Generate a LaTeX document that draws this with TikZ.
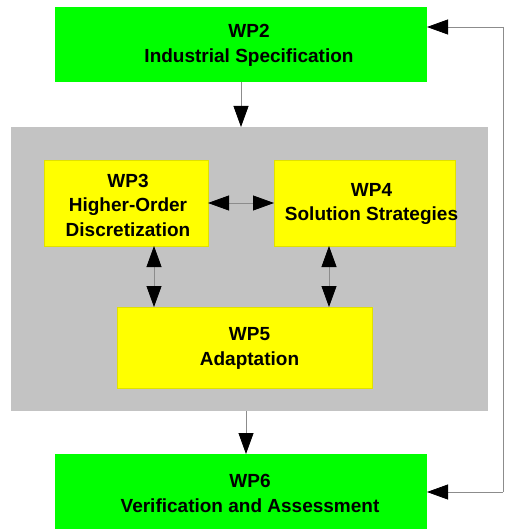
\documentclass[tikz,border=0pt]{standalone}
\usepackage{fontspec}
\setmainfont{Liberation Sans}
\usetikzlibrary{arrows.meta}
\definecolor{boxgreen}{HTML}{00FF00}
\definecolor{boxyellow}{HTML}{FFFF00}
\definecolor{yelborder}{HTML}{E0E000}
\definecolor{panelgray}{HTML}{C3C3C3}
\definecolor{linegray}{HTML}{8C8C8C}
\tikzset{
  wpbox/.style={draw=none, inner sep=0pt, outer sep=0pt, anchor=north west},
  greenbox/.style={wpbox, fill=boxgreen},
  yellowbox/.style={wpbox, fill=boxyellow, draw=yelborder, line width=0.8pt},
  lbl/.style={align=center, font=\fontsize{19}{24.5}\selectfont\bfseries, inner sep=0pt},
  tip/.style={Triangle[length=21pt,width=15pt,color=black]},
  conn/.style={draw=linegray, line width=0.8pt, -{Triangle[length=21pt,width=15pt,color=black]}},
  dconn/.style={draw=linegray, line width=0.8pt, {Triangle[length=21pt,width=15pt,color=black]}-{Triangle[length=21pt,width=15pt,color=black]}},
}
\begin{document}
\begin{tikzpicture}[x=1pt,y=-1pt]
\useasboundingbox (0,0) rectangle (504,529);
\fill[white] (0,0) rectangle (504,529);
% panel
\node[wpbox, fill=panelgray, minimum width=477pt, minimum height=284pt] (panel) at (11,127) {};
% boxes
\node[greenbox, minimum width=372pt, minimum height=75pt] (wp2) at (55,7) {};
\node[yellowbox, minimum width=164pt, minimum height=86pt] (wp3) at (44,160) {};
\node[yellowbox, minimum width=181pt, minimum height=86pt] (wp4) at (274,160) {};
\node[yellowbox, minimum width=255pt, minimum height=81pt] (wp5) at (117,307) {};
\node[greenbox, minimum width=372pt, minimum height=75pt] (wp6) at (55,454) {};
% labels
\node[lbl] (t2) at ([xshift=8pt,yshift=-1pt]wp2.center) {WP2\\Industrial Specification};
\node[lbl] (t3) at ([xshift=2pt,yshift=-2pt]wp3.center) {WP3\\Higher-Order\\Discretization};
\node[lbl] (t4) at ([xshift=7pt,yshift=-1pt]wp4.center) {WP4\\Solution Strategies};
\node[lbl] (t5) at ([xshift=5pt,yshift=-1pt]wp5.center) {WP5\\Adaptation};
\node[lbl] (t6) at ([xshift=9pt,yshift=-2pt]wp6.center) {WP6\\Verification and Assessment};
% connectors
\path[conn] (wp2.south -| 241,0) -- (panel.north -| 241,0);
\path[dconn] (wp3.east |- 0,203) -- (wp4.west |- 0,203);
\path[dconn] (wp3.south -| 154,0) -- (wp5.north -| 154,0);
\path[dconn] (wp4.south -| 329,0) -- (wp5.north -| 329,0);
\path[conn] (panel.south -| 246,0) -- (wp6.north -| 246,0);
\coordinate (fbtop) at (503,27);
\coordinate (fbbot) at (503,492);
\draw[draw=linegray, line width=0.8pt] (fbtop) -- (fbbot);
\path[conn] (fbtop) -- (wp2.east |- fbtop);
\path[conn] (fbbot) -- (wp6.east |- fbbot);
\end{tikzpicture}
\end{document}
